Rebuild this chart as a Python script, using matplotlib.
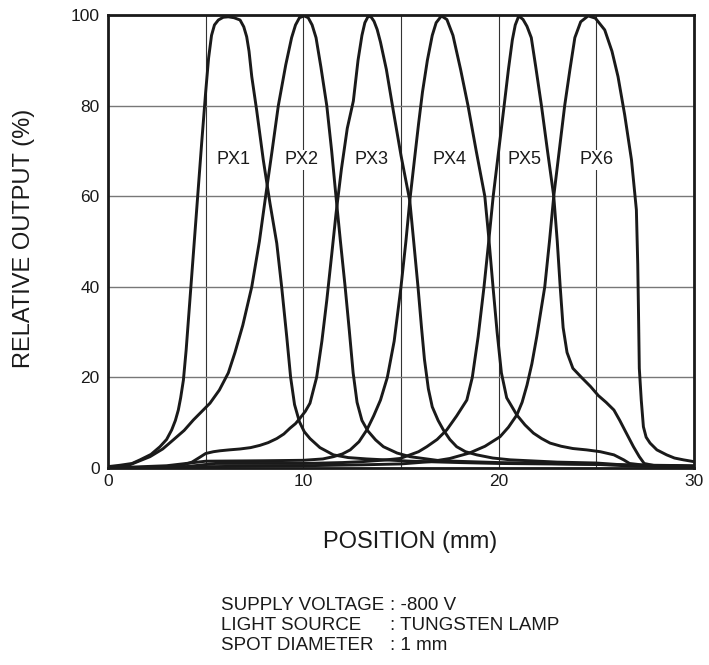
import matplotlib
matplotlib.use("Agg")
import matplotlib.pyplot as plt

plt.rcParams["font.family"] = ["Liberation Sans", "DejaVu Sans"]

# Curve data (position in mm, relative output in %)
px1_x = [0, 0.6, 1.23, 1.64, 2.2, 2.66, 3.0, 3.26, 3.45, 3.6, 3.72, 3.86, 4.0, 4.2, 4.4, 4.6, 4.8,
         5.0, 5.15, 5.3, 5.45, 5.65, 5.9, 6.16, 6.45, 6.76, 6.95, 7.1, 7.22, 7.36, 7.61, 7.95, 8.29,
         8.64, 8.89, 9.15, 9.35, 9.55, 9.8, 10.05, 10.34, 10.85, 11.54, 12.3, 13.25, 15.5, 18, 20,
         25, 28, 30]
px1_y = [0.3, 0.6, 1.0, 1.8, 3.0, 4.7, 6.3, 8.4, 10.5, 12.8, 15.5, 19.4, 26, 37.5, 49, 60.5, 72,
         83, 90.5, 95.5, 97.8, 98.9, 99.5, 99.6, 99.4, 98.9, 97.4, 95.2, 92, 86.4, 79, 68, 58.5,
         49.6, 40, 29, 20, 14, 10.2, 8.0, 6.5, 4.5, 2.9, 2.3, 2.0, 1.5, 1.2, 1.0,
         0.8, 0.6, 0.5]

px2_x = [0, 1.0, 2.15, 2.8, 3.34, 3.9, 4.37, 5.22, 5.7, 6.16, 6.5, 6.9, 7.36, 7.75, 8.07, 8.4, 8.72,
         9.1, 9.4, 9.6, 9.8, 10.04, 10.25, 10.45, 10.65, 10.9, 11.2, 11.45, 11.67, 11.9, 12.14, 12.35,
         12.55, 12.75, 13.0, 13.3, 13.7, 14.1, 14.8, 15.46, 17, 20, 25, 27, 30]
px2_y = [0, 0.5, 2.5, 4.2, 6.2, 8.3, 10.6, 14.3, 17.2, 21, 25.5, 31.5, 40, 50, 60, 70, 80,
         89, 95, 97.8, 99.4, 99.8, 99.4, 97.8, 95, 88.5, 80, 70, 60, 50, 40, 30.5,
         21, 14.5, 10.5, 8.2, 6.2, 4.7, 3.3, 2.5, 1.6, 1.2, 0.8, 0.4, 0.3]

px3_x = [0, 2.5, 3.5, 3.86, 4.3, 4.71, 5.0, 5.4, 5.73, 6.2, 6.76, 7.3, 7.78, 8.2, 8.64, 9.0, 9.32,
         9.6, 9.83, 10.1, 10.34, 10.68, 10.95, 11.2, 11.45, 11.67, 11.95, 12.25, 12.56, 12.8, 13.0,
         13.15, 13.33, 13.48, 13.62, 13.78, 13.95, 14.25, 14.6, 15.0, 15.45, 15.65, 15.87, 16.05,
         16.2, 16.4, 16.6, 16.9, 17.17, 17.5, 17.85, 18.3, 18.88, 19.7, 20.6, 23, 25, 27, 30]
px3_y = [0, 0.1, 0.4, 0.7, 1.3, 2.4, 3.2, 3.6, 3.8, 4.0, 4.2, 4.5, 5.0, 5.6, 6.5, 7.5, 8.8,
         9.8, 11, 12.5, 14.3, 20, 28, 37, 47, 56, 66, 75, 81, 90, 95.5,
         98.3, 99.8, 99.5, 98.6, 96.8, 94, 88, 79, 69, 59, 50, 40, 31,
         24, 17.5, 13.5, 10.5, 8.4, 6.3, 4.7, 3.6, 2.9, 2.2, 1.8, 1.3, 1.1, 0.5, 0.3]

px4_x = [0, 3, 5, 8, 10, 11.0, 11.54, 12.0, 12.4, 12.85, 13.25, 13.6, 13.95, 14.3, 14.65, 15.0, 15.25,
         15.45, 15.7, 15.9, 16.1, 16.35, 16.6, 16.8, 17.07, 17.35, 17.66, 18.05, 18.43, 18.85, 19.29,
         19.49, 19.71, 19.92, 20.14, 20.41, 20.93, 21.35, 21.78, 22.2, 22.63, 23.2, 23.8, 24.5, 25.2,
         25.9, 26.4, 26.7, 27.5, 30]
px4_y = [0, 0.5, 1.5, 1.6, 1.7, 2.0, 2.5, 3.1, 4.0, 5.8, 8.4, 11.5, 15, 20, 28, 40, 50,
         59, 68.5, 76, 83, 90, 95.5, 98.3, 99.8, 99, 95.5, 88, 80, 70, 60,
         51, 40, 30, 21, 15.5, 11.7, 9.5, 7.7, 6.5, 5.5, 4.8, 4.3, 4.0, 3.6,
         2.9, 1.8, 1.0, 0.6, 0.4]

px5_x = [0, 4, 5.5, 8, 10, 12, 13, 14.0, 14.95, 15.46, 15.9, 16.32, 16.85, 17.34, 17.85, 18.37, 18.65,
         18.95, 19.25, 19.49, 19.72, 20.0, 20.28, 20.5, 20.7, 20.85, 21.03, 21.25, 21.45, 21.67, 21.9,
         22.19, 22.5, 22.82, 23.0, 23.15, 23.3, 23.5, 23.8, 24.24, 24.7, 25.1, 25.5, 25.9, 26.2, 26.5,
         26.9, 27.2, 27.45, 28.0, 30]
px5_y = [0, 0.3, 1.0, 1.0, 1.0, 1.2, 1.4, 1.7, 2.1, 2.9, 3.6, 4.7, 6.3, 8.4, 11.5, 15, 20,
         29, 40, 50, 60, 70, 80, 88, 94.5, 97.8, 99.8, 99, 97.5, 95, 88.5,
         80, 70, 60, 50, 40, 31, 25.5, 22, 20, 18, 16, 14.5, 12.8, 10.5, 8,
         4.7, 2.5, 1.0, 0.5, 0.3]

px6_x = [0, 5, 10, 13, 15, 16.5, 17.5, 18.5, 19.3, 20.07, 20.5, 20.93, 21.2, 21.45, 21.7, 21.95, 22.36,
         22.6, 22.82, 23.1, 23.38, 23.65, 23.9, 24.2, 24.58, 24.95, 25.43, 25.8, 26.11, 26.45, 26.8,
         27.05, 27.12, 27.16, 27.2, 27.3, 27.41, 27.55, 27.75, 28.1, 28.6, 29.0, 29.46, 30]
px6_y = [0, 0.3, 0.5, 0.7, 0.9, 1.4, 2.1, 3.3, 4.8, 6.9, 9.0, 11.7, 14.5, 18.3, 23, 29, 40,
         50, 60, 70, 80, 88, 95, 98.5, 99.8, 99.3, 96.7, 92, 86.4, 78, 68,
         57, 45, 34, 22, 15, 9.1, 6.8, 5.5, 4.0, 2.9, 2.2, 1.8, 1.4]

curves = [(px1_x, px1_y), (px2_x, px2_y), (px3_x, px3_y),
          (px4_x, px4_y), (px5_x, px5_y), (px6_x, px6_y)]

labels = ["PX1", "PX2", "PX3", "PX4", "PX5", "PX6"]
label_x = [6.45, 9.92, 13.5, 17.48, 21.3, 25.0]
label_y = 68

notes_left = ["SUPPLY VOLTAGE", "LIGHT SOURCE", "SPOT DIAMETER"]
notes_right = [": -800 V", ": TUNGSTEN LAMP", ": 1 mm"]

fig = plt.figure(figsize=(7.09, 6.65), dpi=100)
ax = fig.add_axes([108 / 709, 1 - 468 / 665, 586 / 709, 453 / 665])

for cx, cy in curves:
    ax.plot(cx, cy, color="#1a1a1a", lw=2.1, solid_joinstyle="round", solid_capstyle="round",
            zorder=3, clip_on=True)

for lab, lx in zip(labels, label_x):
    ax.text(lx, label_y, lab, ha="center", va="center", fontsize=13, color="#1a1a1a", zorder=4,
            bbox=dict(facecolor="white", edgecolor="none", pad=1.0))

ax.set_xlim(0, 30)
ax.set_ylim(0, 100)
ax.set_xticks([0, 10, 20, 30])
ax.set_yticks([0, 20, 40, 60, 80, 100])
ax.set_xticks([5, 15, 25], minor=True)
ax.tick_params(which="both", length=0, labelsize=12.5, colors="#1a1a1a")
ax.tick_params(axis="x", pad=4)
ax.tick_params(axis="y", pad=6)

ax.grid(True, axis="x", which="both", color="#333333", lw=0.8, zorder=1)
ax.grid(True, axis="y", color="#777777", lw=1.0, zorder=1)

for s in ax.spines.values():
    s.set_linewidth(2.0)
    s.set_color("#1a1a1a")
    s.set_zorder(5)

fig.text(24 / 709, 1 - 238 / 665, "RELATIVE OUTPUT (%)", rotation=90, ha="center", va="center",
         fontsize=17, color="#1a1a1a")
fig.text(410 / 709, 1 - 542 / 665, "POSITION (mm)", ha="center", va="center",
         fontsize=17, color="#1a1a1a")

for i, (a, b) in enumerate(zip(notes_left, notes_right)):
    yy = 1 - (605 + 20 * i) / 665
    fig.text(221 / 709, yy, a, ha="left", va="center", fontsize=13.5, color="#1a1a1a")
    fig.text(390 / 709, yy, b, ha="left", va="center", fontsize=13.5, color="#1a1a1a")

fig.savefig("out.png", dpi=100)
